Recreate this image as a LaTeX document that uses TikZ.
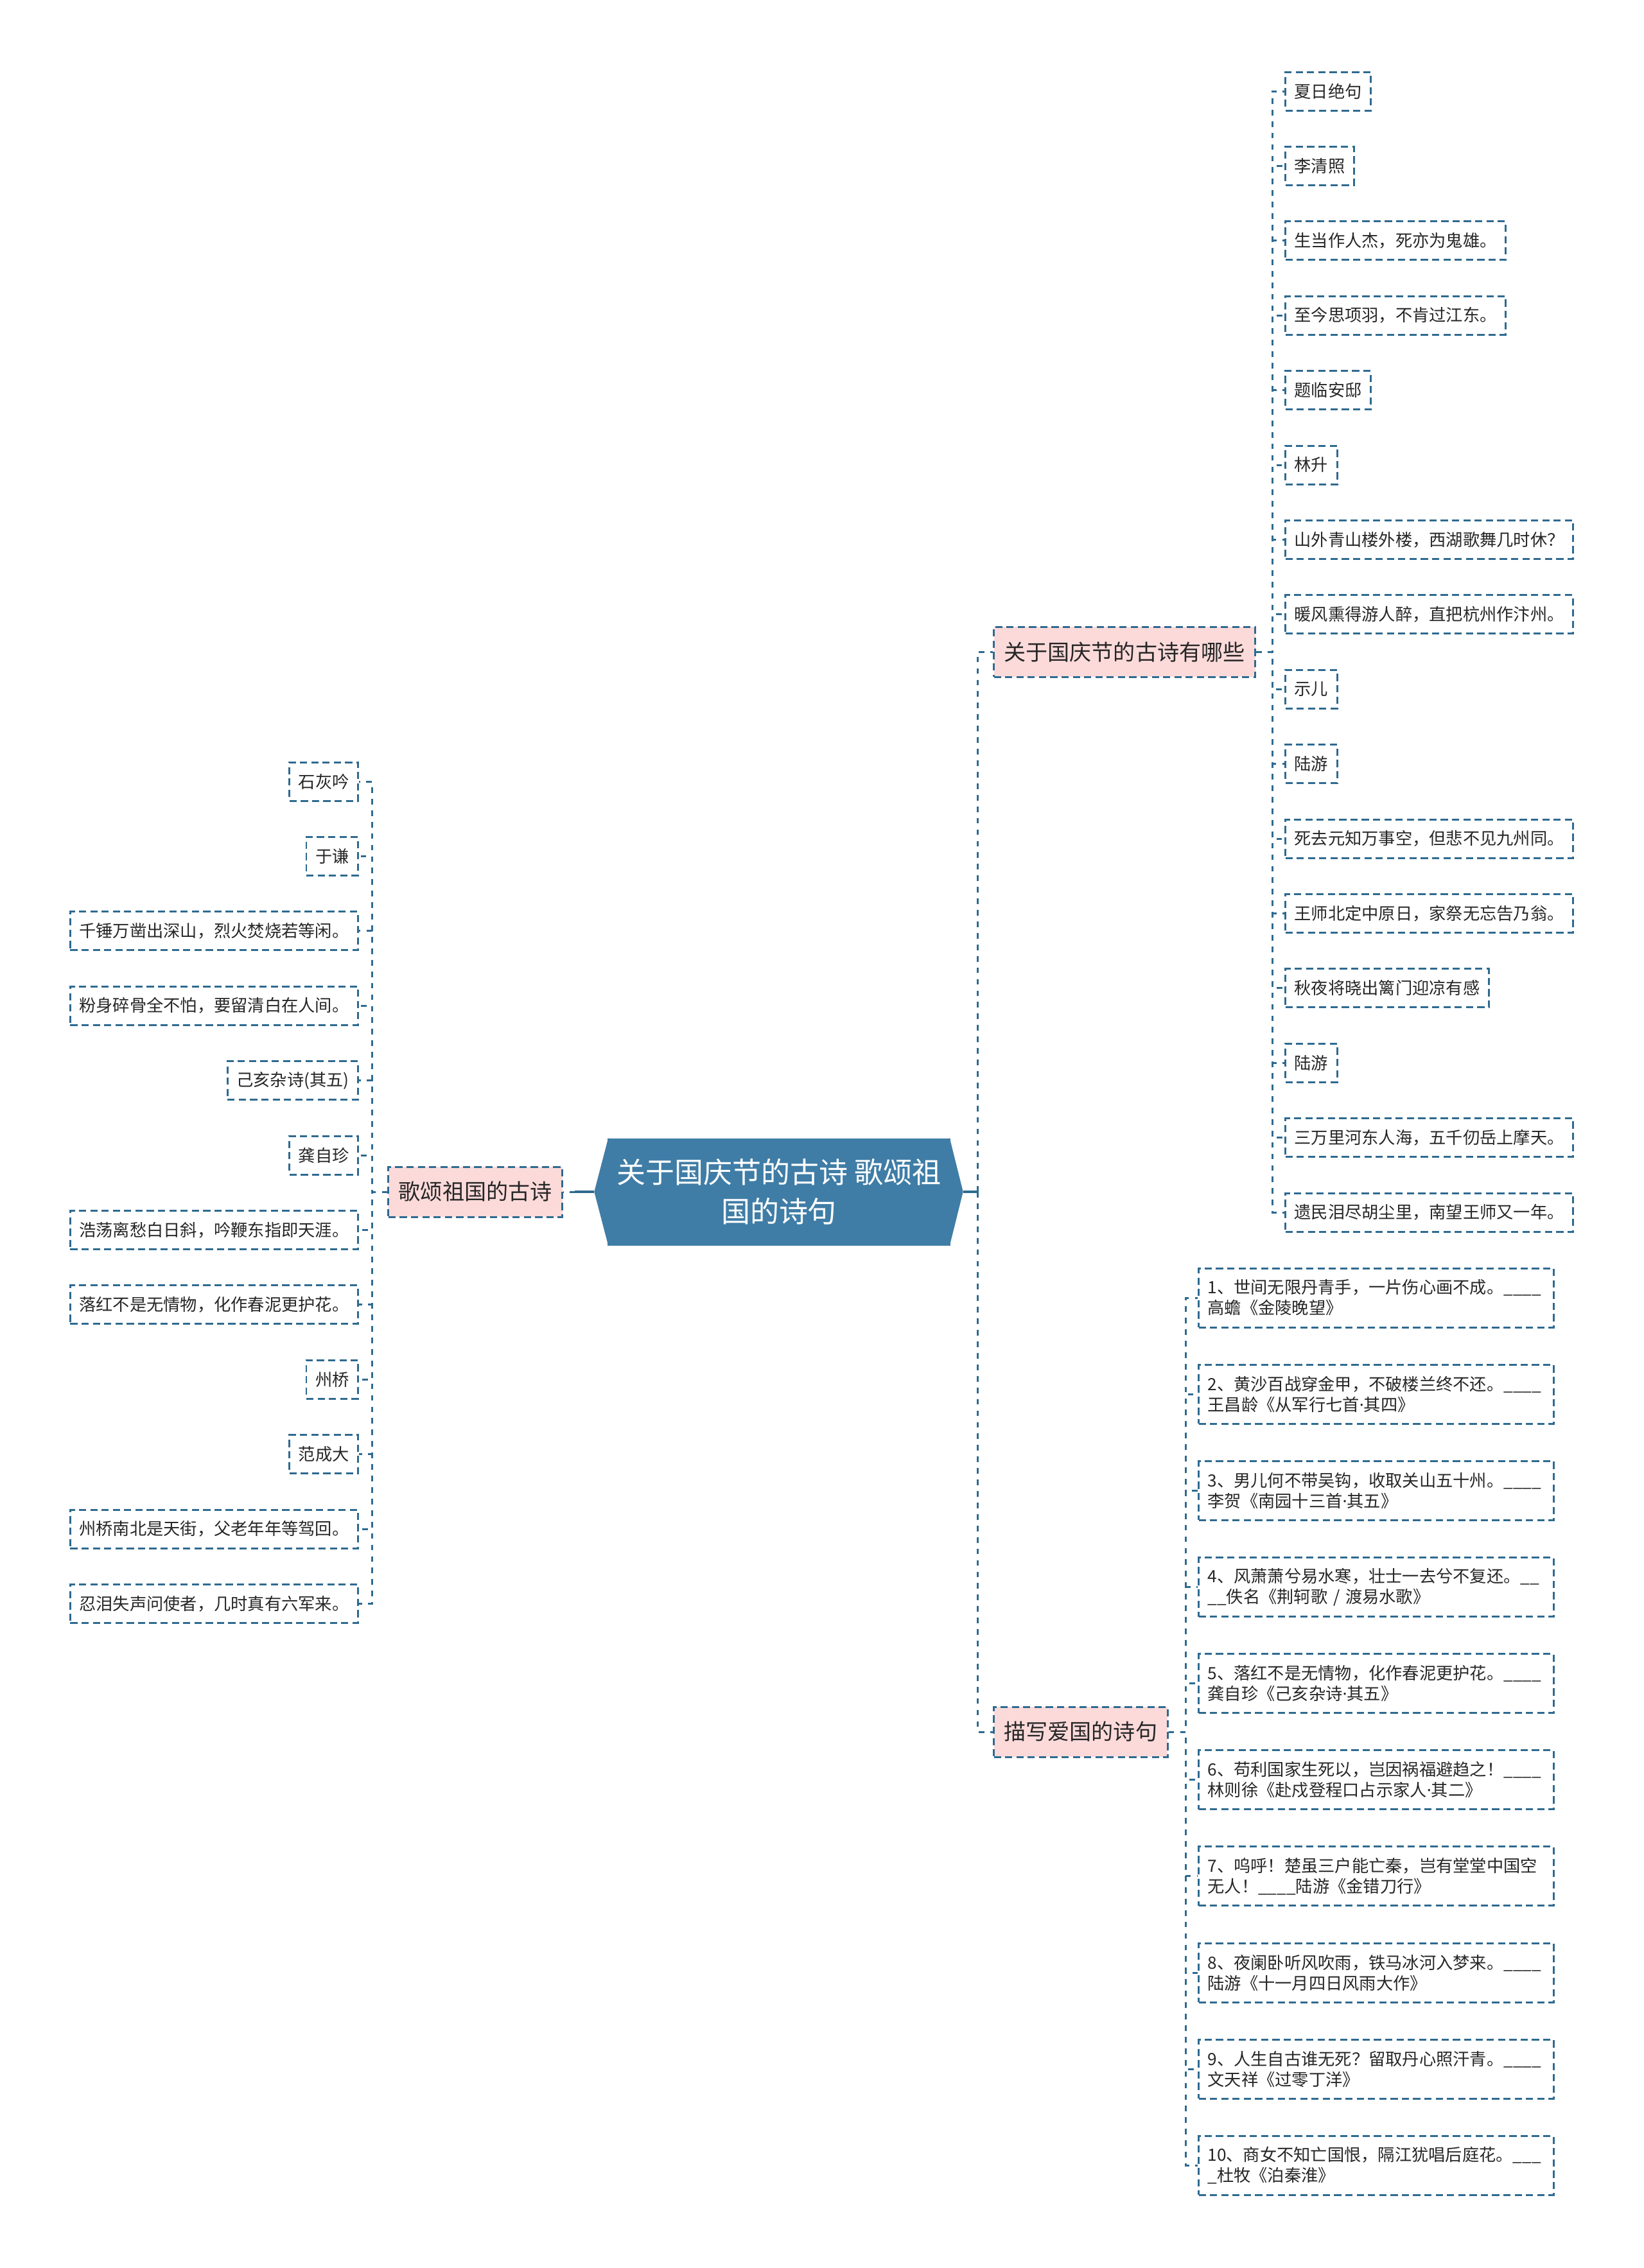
\documentclass[tikz,border=0pt]{standalone}
\usepackage{fontspec}
\setmainfont{Noto Sans CJK SC}
\newfontfamily\latinfont{Noto Sans}
\newcommand{\mdot}{{\latinfont ·}}
\usetikzlibrary{calc}

\definecolor{linkblue}{HTML}{2E6A90}
\definecolor{rootblue}{HTML}{3F7DA6}
\definecolor{pinkfill}{HTML}{FCDADA}
\definecolor{inkgray}{HTML}{262626}

\begin{document}
\begin{tikzpicture}[
  box/.style={draw=linkblue, line width=0.85pt, dash pattern=on 3.2pt off 1.8pt, text=inkgray, inner ysep=0pt},
  leaf/.style={box, font=\fontsize{7.47pt}{9.1pt}\selectfont, inner xsep=0.14cm, minimum height=0.6cm},
  poem/.style={leaf, text width=5.25cm, align=left, minimum height=0.92cm},
  branch/.style={box, fill=pinkfill, font=\fontsize{9.7pt}{12pt}\selectfont, inner xsep=0.16cm, minimum height=0.78cm},
  rootbox/.style={fill=rootblue, text=white, font=\fontsize{12.8pt}{17.4pt}\selectfont, align=center,
                  inner sep=0pt, minimum width=5.34cm, minimum height=1.67cm},
  link/.style={draw=linkblue, line width=0.85pt, dash pattern=on 2.5pt off 2.6pt},
  trunk/.style={draw=linkblue, line width=1.1pt},
]
  \useasboundingbox (0,0) rectangle (25.6,-35.32);

  % centre
  \node[rootbox] (root) at (12.13,-18.56) {关于国庆节的古诗 歌颂祖\\国的诗句};
  \fill[rootblue] ([xshift=0.02cm]root.north west) -- ($(root.west)+(-0.2,0)$) coordinate (rootW)
    -- ([xshift=0.02cm]root.south west) -- cycle;
  \fill[rootblue] ([xshift=-0.02cm]root.north east) -- ($(root.east)+(0.19,0)$) coordinate (rootE)
    -- ([xshift=-0.02cm]root.south east) -- cycle;

  % main branches
  \node[branch, anchor=east] (b0) at (8.77,-18.56)  {歌颂祖国的古诗};
  \node[branch, anchor=west] (b1) at (15.46,-10.15) {关于国庆节的古诗有哪些};
  \node[branch, anchor=west] (b2) at (15.46,-26.97) {描写爱国的诗句};

  \draw[trunk] (rootE) -- ++(0.23,0) coordinate (rj);
  \draw[link] (rj) |- (b1.west);
  \draw[link] (rj) |- (b2.west);
  \draw[trunk] (rootW) -- ++(-0.3,0) coordinate (lj);
  \draw[link] (lj) -- (b0.east);

  % left leaves
  \node[leaf, anchor=east] (g1)  at (5.59,-12.170) {石灰吟};
  \node[leaf, anchor=east] (g2)  at (5.59,-13.334) {于谦};
  \node[leaf, anchor=east] (g3)  at (5.59,-14.498) {千锤万凿出深山，烈火焚烧若等闲。};
  \node[leaf, anchor=east] (g4)  at (5.59,-15.662) {粉身碎骨全不怕，要留清白在人间。};
  \node[leaf, anchor=east] (g5)  at (5.59,-16.826) {己亥杂诗(其五)};
  \node[leaf, anchor=east] (g6)  at (5.59,-17.990) {龚自珍};
  \node[leaf, anchor=east] (g7)  at (5.59,-19.154) {浩荡离愁白日斜，吟鞭东指即天涯。};
  \node[leaf, anchor=east] (g8)  at (5.59,-20.318) {落红不是无情物，化作春泥更护花。};
  \node[leaf, anchor=east] (g9)  at (5.59,-21.482) {州桥};
  \node[leaf, anchor=east] (g10) at (5.59,-22.646) {范成大};
  \node[leaf, anchor=east] (g11) at (5.59,-23.810) {州桥南北是天街，父老年年等驾回。};
  \node[leaf, anchor=east] (g12) at (5.59,-24.974) {忍泪失声问使者，几时真有六军来。};

  \draw[link] (b0.west) -- ++(-0.24,0) |- (g1.east);
  \draw[link] (b0.west) -- ++(-0.24,0) |- (g2.east);
  \draw[link] (b0.west) -- ++(-0.24,0) |- (g3.east);
  \draw[link] (b0.west) -- ++(-0.24,0) |- (g4.east);
  \draw[link] (b0.west) -- ++(-0.24,0) |- (g5.east);
  \draw[link] (b0.west) -- ++(-0.24,0) |- (g6.east);
  \draw[link] (b0.west) -- ++(-0.24,0) |- (g7.east);
  \draw[link] (b0.west) -- ++(-0.24,0) |- (g8.east);
  \draw[link] (b0.west) -- ++(-0.24,0) |- (g9.east);
  \draw[link] (b0.west) -- ++(-0.24,0) |- (g10.east);
  \draw[link] (b0.west) -- ++(-0.24,0) |- (g11.east);
  \draw[link] (b0.west) -- ++(-0.24,0) |- (g12.east);

  % upper right leaves
  \node[leaf, anchor=west] (q1)  at (20.00,-1.420)  {夏日绝句};
  \node[leaf, anchor=west] (q2)  at (20.00,-2.584)  {李清照};
  \node[leaf, anchor=west] (q3)  at (20.00,-3.748)  {生当作人杰，死亦为鬼雄。};
  \node[leaf, anchor=west] (q4)  at (20.00,-4.912)  {至今思项羽，不肯过江东。};
  \node[leaf, anchor=west] (q5)  at (20.00,-6.076)  {题临安邸};
  \node[leaf, anchor=west] (q6)  at (20.00,-7.240)  {林升};
  \node[leaf, anchor=west] (q7)  at (20.00,-8.404)  {山外青山楼外楼，西湖歌舞几时休？};
  \node[leaf, anchor=west] (q8)  at (20.00,-9.568)  {暖风熏得游人醉，直把杭州作汴州。};
  \node[leaf, anchor=west] (q9)  at (20.00,-10.732) {示儿};
  \node[leaf, anchor=west] (q10) at (20.00,-11.896) {陆游};
  \node[leaf, anchor=west] (q11) at (20.00,-13.060) {死去元知万事空，但悲不见九州同。};
  \node[leaf, anchor=west] (q12) at (20.00,-14.224) {王师北定中原日，家祭无忘告乃翁。};
  \node[leaf, anchor=west] (q13) at (20.00,-15.388) {秋夜将晓出篱门迎凉有感};
  \node[leaf, anchor=west] (q14) at (20.00,-16.552) {陆游};
  \node[leaf, anchor=west] (q15) at (20.00,-17.716) {三万里河东人海，五千仞岳上摩天。};
  \node[leaf, anchor=west] (q16) at (20.00,-18.880) {遗民泪尽胡尘里，南望王师又一年。};

  \draw[link] (b1.east) -- ++(0.25,0) |- (q1.west);
  \draw[link] (b1.east) -- ++(0.25,0) |- (q2.west);
  \draw[link] (b1.east) -- ++(0.25,0) |- (q3.west);
  \draw[link] (b1.east) -- ++(0.25,0) |- (q4.west);
  \draw[link] (b1.east) -- ++(0.25,0) |- (q5.west);
  \draw[link] (b1.east) -- ++(0.25,0) |- (q6.west);
  \draw[link] (b1.east) -- ++(0.25,0) |- (q7.west);
  \draw[link] (b1.east) -- ++(0.25,0) |- (q8.west);
  \draw[link] (b1.east) -- ++(0.25,0) |- (q9.west);
  \draw[link] (b1.east) -- ++(0.25,0) |- (q10.west);
  \draw[link] (b1.east) -- ++(0.25,0) |- (q11.west);
  \draw[link] (b1.east) -- ++(0.25,0) |- (q12.west);
  \draw[link] (b1.east) -- ++(0.25,0) |- (q13.west);
  \draw[link] (b1.east) -- ++(0.25,0) |- (q14.west);
  \draw[link] (b1.east) -- ++(0.25,0) |- (q15.west);
  \draw[link] (b1.east) -- ++(0.25,0) |- (q16.west);

  % lower right poems
  \node[poem, anchor=west] (p1)  at (18.65,-20.210) {1、世间无限丹青手，一片伤心画不成。\_\_\_\_\\高蟾《金陵晚望》};
  \node[poem, anchor=west] (p2)  at (18.65,-21.712) {2、黄沙百战穿金甲，不破楼兰终不还。\_\_\_\_\\王昌龄《从军行七首\mdot 其四》};
  \node[poem, anchor=west] (p3)  at (18.65,-23.213) {3、男儿何不带吴钩，收取关山五十州。\_\_\_\_\\李贺《南园十三首\mdot 其五》};
  \node[poem, anchor=west] (p4)  at (18.65,-24.715) {4、风萧萧兮易水寒，壮士一去兮不复还。\_\_\\\_\_佚名《荆轲歌 / 渡易水歌》};
  \node[poem, anchor=west] (p5)  at (18.65,-26.216) {5、落红不是无情物，化作春泥更护花。\_\_\_\_\\龚自珍《己亥杂诗\mdot 其五》};
  \node[poem, anchor=west] (p6)  at (18.65,-27.718) {6、苟利国家生死以，岂因祸福避趋之！\_\_\_\_\\林则徐《赴戍登程口占示家人\mdot 其二》};
  \node[poem, anchor=west] (p7)  at (18.65,-29.219) {7、呜呼！楚虽三户能亡秦，岂有堂堂中国空\\无人！\_\_\_\_陆游《金错刀行》};
  \node[poem, anchor=west] (p8)  at (18.65,-30.721) {8、夜阑卧听风吹雨，铁马冰河入梦来。\_\_\_\_\\陆游《十一月四日风雨大作》};
  \node[poem, anchor=west] (p9)  at (18.65,-32.222) {9、人生自古谁无死？留取丹心照汗青。\_\_\_\_\\文天祥《过零丁洋》};
  \node[poem, anchor=west] (p10) at (18.65,-33.724) {10、商女不知亡国恨，隔江犹唱后庭花。\_\_\_\\\_杜牧《泊秦淮》};

  \draw[link] (b2.east) -- ++(0.27,0) |- (p1.west);
  \draw[link] (b2.east) -- ++(0.27,0) |- (p2.west);
  \draw[link] (b2.east) -- ++(0.27,0) |- (p3.west);
  \draw[link] (b2.east) -- ++(0.27,0) |- (p4.west);
  \draw[link] (b2.east) -- ++(0.27,0) |- (p5.west);
  \draw[link] (b2.east) -- ++(0.27,0) |- (p6.west);
  \draw[link] (b2.east) -- ++(0.27,0) |- (p7.west);
  \draw[link] (b2.east) -- ++(0.27,0) |- (p8.west);
  \draw[link] (b2.east) -- ++(0.27,0) |- (p9.west);
  \draw[link] (b2.east) -- ++(0.27,0) |- (p10.west);
\end{tikzpicture}
\end{document}
